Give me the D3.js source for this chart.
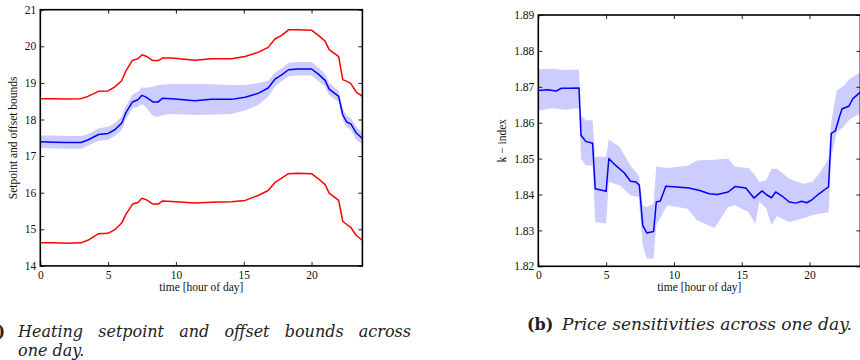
<!DOCTYPE html>
<html><head><meta charset="utf-8">
<script src="https://cdn.jsdelivr.net/npm/d3@7"></script>
<style>body{margin:0;background:#fff}svg{display:block}</style>
</head><body>
<svg id="c" width="860" height="360"></svg>
<script>
// ---------- Panel (a) data ----------
const hoursA = [0, 1, 2, 3, 3.5, 4.3, 5.0, 5.5, 6.0, 6.3, 6.8, 7.2, 7.5, 7.8, 8.3, 8.7, 9.0, 9.7, 11.4, 12.6, 14.1, 15.1, 16.1, 16.8, 17.3, 17.8, 18.3, 19.0, 20.0, 20.5, 21.0, 21.3, 22.0, 22.3, 22.6, 22.9, 23.3, 23.75];
const setpointMean = [17.39, 17.38, 17.37, 17.37, 17.44, 17.59, 17.62, 17.72, 17.90, 18.18, 18.48, 18.54, 18.66, 18.61, 18.48, 18.48, 18.58, 18.57, 18.51, 18.55, 18.55, 18.61, 18.72, 18.86, 19.10, 19.22, 19.36, 19.38, 19.38, 19.24, 19.07, 18.83, 18.63, 18.13, 17.93, 17.88, 17.63, 17.48];
const setpointHi = [17.56, 17.56, 17.55, 17.55, 17.60, 17.76, 17.80, 17.90, 18.08, 18.36, 18.68, 18.76, 18.88, 18.86, 18.90, 18.94, 18.95, 18.97, 18.97, 18.96, 18.94, 18.94, 19.00, 19.06, 19.28, 19.40, 19.55, 19.57, 19.57, 19.42, 19.24, 19.00, 18.78, 18.30, 18.10, 18.04, 17.80, 17.64];
const setpointLo = [17.22, 17.21, 17.20, 17.20, 17.28, 17.42, 17.45, 17.55, 17.72, 18.00, 18.30, 18.35, 18.42, 18.33, 18.10, 18.07, 18.12, 18.15, 18.12, 18.13, 18.15, 18.25, 18.40, 18.62, 18.90, 19.05, 19.18, 19.20, 19.20, 19.05, 18.90, 18.66, 18.48, 17.98, 17.78, 17.72, 17.45, 17.32];
const upperBound = [18.57, 18.57, 18.56, 18.57, 18.63, 18.77, 18.78, 18.89, 19.06, 19.32, 19.62, 19.66, 19.77, 19.73, 19.61, 19.61, 19.68, 19.68, 19.62, 19.66, 19.66, 19.72, 19.84, 19.97, 20.20, 20.30, 20.45, 20.45, 20.44, 20.30, 20.14, 19.91, 19.72, 19.09, 19.04, 18.98, 18.75, 18.63];
const lowerBound = [14.63, 14.63, 14.62, 14.63, 14.70, 14.88, 14.89, 14.99, 15.17, 15.40, 15.69, 15.73, 15.85, 15.81, 15.69, 15.69, 15.77, 15.76, 15.72, 15.74, 15.75, 15.79, 15.93, 16.06, 16.28, 16.40, 16.52, 16.53, 16.52, 16.38, 16.22, 15.99, 15.79, 15.22, 15.13, 15.05, 14.83, 14.70];
const yTicksA = [14, 15, 16, 17, 18, 19, 20, 21];

// ---------- Panel (b) data ----------
const hoursB = [0, 0.7, 1.3, 1.7, 2.3, 3.0, 3.15, 3.5, 4.0, 4.2, 5.0, 5.2, 5.7, 6.35, 6.8, 7.2, 7.45, 7.7, 8.0, 8.5, 8.7, 9.0, 9.4, 10.2, 11.1, 11.9, 12.6, 13.2, 14.0, 14.5, 15.3, 15.9, 16.5, 16.8, 17.2, 17.5, 18.0, 18.5, 19.0, 19.4, 19.8, 20.2, 20.7, 21.2, 21.4, 21.6, 21.9, 22.2, 22.4, 22.9, 23.2, 23.75];
const kMean = [1.8690, 1.8692, 1.8688, 1.8696, 1.8696, 1.8697, 1.8565, 1.8548, 1.8543, 1.8416, 1.8409, 1.8500, 1.8481, 1.8460, 1.8437, 1.8435, 1.8426, 1.8314, 1.8293, 1.8297, 1.8379, 1.8382, 1.8423, 1.8421, 1.8418, 1.8411, 1.8402, 1.8400, 1.8407, 1.8422, 1.8418, 1.8390, 1.8410, 1.8400, 1.8391, 1.8407, 1.8395, 1.8379, 1.8376, 1.8381, 1.8377, 1.8386, 1.8402, 1.8416, 1.8421, 1.8570, 1.8577, 1.8616, 1.8639, 1.8646, 1.8667, 1.8685];
const hoursBand = [0, 1, 2, 3.0, 3.15, 3.5, 4.0, 4.2, 5.0, 5.2, 6.0, 6.8, 7.4, 7.7, 8.0, 8.5, 8.7, 9.5, 11.0, 11.7, 13.0, 14.0, 14.5, 15.5, 16.0, 16.3, 16.8, 17.2, 17.6, 18.5, 19.5, 20.2, 20.8, 21.4, 21.6, 22.0, 22.5, 23.0, 23.75];
const kUpper = [1.8749, 1.8750, 1.8747, 1.8748, 1.8620, 1.8607, 1.8607, 1.8505, 1.8505, 1.8553, 1.8532, 1.8481, 1.8453, 1.8370, 1.8365, 1.8374, 1.8478, 1.8474, 1.8480, 1.8495, 1.8497, 1.8500, 1.8477, 1.8474, 1.8453, 1.8435, 1.8440, 1.8472, 1.8472, 1.8444, 1.8430, 1.8435, 1.8463, 1.8500, 1.8602, 1.8690, 1.8702, 1.8723, 1.8740];
const kLower = [1.8634, 1.8640, 1.8636, 1.8640, 1.8500, 1.8481, 1.8481, 1.8323, 1.8320, 1.8435, 1.8426, 1.8398, 1.8393, 1.8258, 1.8222, 1.8222, 1.8314, 1.8370, 1.8360, 1.8328, 1.8307, 1.8365, 1.8370, 1.8351, 1.8318, 1.8380, 1.8362, 1.8314, 1.8340, 1.8323, 1.8333, 1.8342, 1.8347, 1.8350, 1.8500, 1.8574, 1.8588, 1.8611, 1.8625];
const yTicksB = [1.82, 1.83, 1.84, 1.85, 1.86, 1.87, 1.88, 1.89];

const xTicks = [0, 5, 10, 15, 20];
const xLabel = "time [hour of day]";

const svg = d3.select("#c");
const tickFont = "'Liberation Serif', 'Times New Roman', serif";

function panel(cfg) {
  const x = d3.scaleLinear().domain([0, 23.75]).range([cfg.x0, cfg.x1]);
  const y = d3.scaleLinear().domain(cfg.yDomain).range([cfg.y1, cfg.y0]);
  const clipId = "clip" + cfg.id;
  svg.append("clipPath").attr("id", clipId).append("rect")
    .attr("x", cfg.x0).attr("y", cfg.y0).attr("width", cfg.x1 - cfg.x0).attr("height", cfg.y1 - cfg.y0);
  const g = svg.append("g").attr("clip-path", `url(#${clipId})`);

  const area = d3.area().x(d => x(d[0])).y0(d => y(d[1])).y1(d => y(d[2]));
  g.append("path").datum(cfg.bandHours.map((h, i) => [h, cfg.bandLo[i], cfg.bandHi[i]]))
    .attr("d", area).attr("fill", "#ccccff").attr("stroke", "none");

  const line = d3.line().x(d => x(d[0])).y(d => y(d[1]));
  cfg.lines.forEach(L => {
    g.append("path").datum(L.hours.map((h, i) => [h, L.values[i]]))
      .attr("d", line).attr("fill", "none").attr("stroke", L.color)
      .attr("stroke-width", 1.5).attr("stroke-linejoin", "round");
  });

  const styleAxis = (sel, hideLabels) => {
    sel.select(".domain").remove();
    sel.selectAll(".tick line").attr("stroke", "#222").attr("stroke-width", 1);
    sel.selectAll(".tick text").attr("font-family", tickFont).attr("font-size", 11.5).attr("fill", "#111");
    if (hideLabels) sel.selectAll(".tick text").remove();
  };
  svg.append("g").attr("transform", `translate(0,${cfg.y1})`)
    .call(d3.axisBottom(x).tickValues(xTicks).tickSize(-4).tickPadding(5).tickFormat(d3.format("d")))
    .call(s => styleAxis(s, false));
  svg.append("g").attr("transform", `translate(0,${cfg.y0})`)
    .call(d3.axisTop(x).tickValues(xTicks).tickSize(-4))
    .call(s => styleAxis(s, true));
  svg.append("g").attr("transform", `translate(${cfg.x0},0)`)
    .call(d3.axisLeft(y).tickValues(cfg.yTicks).tickSize(-4).tickPadding(4).tickFormat(cfg.fmt))
    .call(s => styleAxis(s, false));
  svg.append("g").attr("transform", `translate(${cfg.x1},0)`)
    .call(d3.axisRight(y).tickValues(cfg.yTicks).tickSize(-4))
    .call(s => styleAxis(s, true));

  svg.append("rect").attr("x", cfg.x0).attr("y", cfg.y0)
    .attr("width", cfg.x1 - cfg.x0).attr("height", cfg.y1 - cfg.y0)
    .attr("fill", "none").attr("stroke", "#000").attr("stroke-width", 1.6);

  svg.append("text").attr("x", (cfg.x0 + cfg.x1) / 2).attr("y", cfg.y1 + 25)
    .attr("text-anchor", "middle").attr("font-family", tickFont).attr("font-size", 11.5)
    .attr("fill", "#111").text(xLabel);
  svg.append("text").attr("transform", `translate(${cfg.ylabX},${(cfg.y0 + cfg.y1) / 2}) rotate(-90)`)
    .attr("text-anchor", "middle").attr("font-family", tickFont).attr("font-size", 11.5)
    .attr("fill", "#111").text(cfg.yLabel);
}

panel({
  id: "a", x0: 40.3, x1: 362.4, y0: 9.7, y1: 265.9, yDomain: [14, 21], yTicks: yTicksA,
  fmt: d3.format("d"), ylabX: 17, yLabel: "Setpoint and offset bounds",
  bandHours: hoursA, bandLo: setpointLo, bandHi: setpointHi,
  lines: [
    {hours: hoursA, values: upperBound, color: "#ff0000"},
    {hours: hoursA, values: lowerBound, color: "#ff0000"},
    {hours: hoursA, values: setpointMean, color: "#0000ff"}
  ]
});
panel({
  id: "b", x0: 538.3, x1: 860.4, y0: 15, y1: 266.3, yDomain: [1.82, 1.89], yTicks: yTicksB,
  fmt: d3.format(".2f"), ylabX: 506, yLabel: "k \u2212 index",
  bandHours: hoursBand, bandLo: kLower, bandHi: kUpper,
  lines: [{hours: hoursB, values: kMean, color: "#0000ff"}]
});

// ---------- Captions ----------
const capFont = "'DejaVu Serif', serif";
svg.append("text").attr("x", 5).attr("y", 337).attr("text-anchor", "end")
  .attr("font-family", capFont).attr("font-weight", "bold").attr("font-size", 16).attr("fill", "#222").text("(a)");
const line1 = svg.append("text").attr("x", 18).attr("y", 337)
  .attr("font-family", capFont).attr("font-style", "italic").attr("font-size", 16).attr("fill", "#222")
  .text("Heating setpoint and offset bounds across");
const natural = line1.node().getComputedTextLength();
line1.attr("word-spacing", Math.max(0, (393 - natural) / 5));
svg.append("text").attr("x", 18).attr("y", 356)
  .attr("font-family", capFont).attr("font-style", "italic").attr("font-size", 16).attr("fill", "#222")
  .text("one day.");
svg.append("text").attr("x", 527).attr("y", 330)
  .attr("font-family", capFont).attr("font-weight", "bold").attr("font-size", 16).attr("fill", "#222").text("(b)");
svg.append("text").attr("x", 562).attr("y", 330)
  .attr("font-family", capFont).attr("font-style", "italic").attr("font-size", 16).attr("fill", "#222")
  .attr("textLength", 290).attr("lengthAdjust", "spacingAndGlyphs")
  .text("Price sensitivities across one day.");
</script>
</body></html>
